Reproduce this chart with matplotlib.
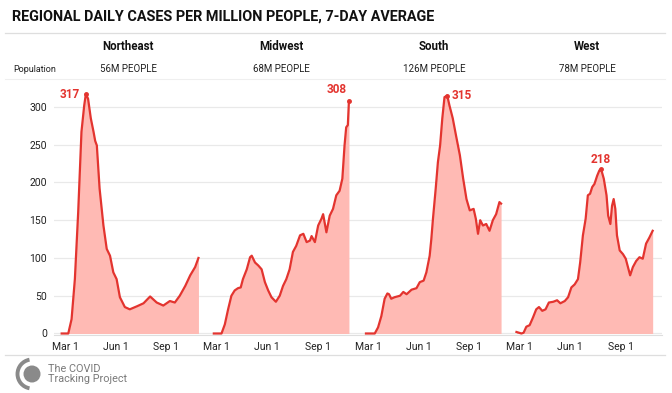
import matplotlib
matplotlib.use("Agg")
import matplotlib.pyplot as plt
from matplotlib.patches import Circle, Arc
from matplotlib.lines import Line2D

plt.rcParams['font.family'] = ['Roboto', 'DejaVu Sans']

# data: days from Mar 1 (2020) and 7-day average cases per million
regions = ["Northeast", "Midwest", "South", "West"]
populations = ["56M PEOPLE", "68M PEOPLE", "126M PEOPLE", "78M PEOPLE"]
peak_labels = [317, 308, 315, 218]

ne_days = [-6, 6, 12, 18, 24, 30, 35, 38, 42, 47, 52, 55, 58, 63, 70, 76, 82, 88, 94, 100,
           109, 118, 131, 143, 155, 167, 179, 191, 200, 209, 219, 228, 237, 243]
ne_vals = [0, 0, 19, 72, 160, 267, 302, 317, 311, 285, 267, 255, 249, 192, 143, 112, 103, 81, 72, 48,
           35, 32, 36, 40, 49, 41, 37, 43, 41, 50, 63, 77, 88, 100]

mw_days = [-5, 9, 15, 21, 27, 33, 39, 44, 48, 55, 61, 64, 70, 76, 82, 88, 94, 100, 108, 115,
           121, 127, 133, 139, 145, 152, 158, 164, 170, 173, 179, 185, 191, 194, 200, 206, 212,
           218, 224, 229, 233, 236, 239, 241]
mw_vals = [0, 0, 12, 32, 50, 57, 60, 61, 72, 85, 101, 103, 94, 90, 85, 68, 57, 48, 42, 50,
           63, 72, 85, 108, 116, 130, 132, 121, 123, 129, 121, 143, 152, 158, 134, 156, 165,
           183, 189, 205, 249, 273, 276, 308]

so_days = [-4, 12, 18, 24, 30, 35, 38, 42, 48, 58, 64, 70, 79, 88, 94, 101, 106, 112, 115, 118,
           123, 127, 131, 135, 139, 144, 148, 154, 160, 167, 173, 179, 185, 192, 196, 200, 204,
           209, 215, 221, 227, 233, 239, 242]
so_vals = [0, 0, 8, 23, 46, 53, 52, 46, 48, 50, 55, 52, 58, 60, 68, 70, 81, 103, 125, 152,
           192, 227, 249, 285, 313, 315, 302, 285, 262, 236, 205, 178, 163, 165, 152, 132, 150,
           143, 145, 136, 150, 158, 174, 172]

we_days = [-6, 3, 7, 12, 18, 24, 30, 35, 41, 47, 53, 61, 68, 74, 82, 88, 94, 100, 106, 110,
           115, 120, 124, 128, 132, 136, 141, 145, 148, 153, 158, 161, 165, 168, 171, 174, 177,
           182, 188, 193, 197, 201, 206, 212, 218, 224, 230, 236, 242]
we_vals = [2, 0, 1, 9, 11, 21, 32, 35, 30, 32, 41, 42, 44, 40, 43, 48, 61, 65, 72, 94,
           130, 152, 183, 185, 194, 198, 209, 216, 218, 205, 183, 156, 145, 169, 178, 165, 130,
           110, 105, 99, 88, 77, 88, 96, 101, 99, 119, 127, 136]

all_days = [ne_days, mw_days, so_days, we_days]
all_vals = [ne_vals, mw_vals, so_vals, we_vals]

tick_days = [0, 92, 184]
tick_names = ["Mar 1", "Jun 1", "Sep 1"]

LINE = "#e3342f"
FILL = "#ffbab4"
GRID = "#e9e9e9"
RULE = "#dedede"
W, H = 672, 393
offset = 276

fig = plt.figure(figsize=(W / 100, H / 100), dpi=100)
ax = fig.add_axes([54 / W, 1 - 335 / H, (662 - 54) / W, (335 - 79) / H])

# label placement: (dx, dy) in points, ha
label_pos = [(-4, 0, "right"), (-9, 8, "center"), (3, 0, "left"), (0, 7, "center")]

xt, xl = [], []
for i in range(4):
    x = [d + i * offset for d in all_days[i]]
    y = all_vals[i]
    ax.fill_between(x, y, 0, color=FILL, lw=0, zorder=2)
    ax.plot(x, y, color=LINE, lw=1.6, zorder=3, solid_joinstyle="round")
    k = y.index(peak_labels[i])
    ax.plot(x[k], y[k], "o", color=LINE, ms=2.5, zorder=4)
    dx, dy, ha = label_pos[i]
    ax.annotate(str(peak_labels[i]), (x[k], y[k]), xytext=(dx, dy), textcoords="offset points",
                ha=ha, va="center", color=LINE, fontsize=8.5, fontweight="bold")
    for d, n in zip(tick_days, tick_names):
        xt.append(d + i * offset)
        xl.append(n)

ax.set_xlim(-20, 1087)
ax.set_ylim(-2, 337)
ax.set_yticks([0, 50, 100, 150, 200, 250, 300])
ax.set_xticks(xt)
ax.set_xticklabels(xl)
ax.tick_params(axis="both", length=0, labelsize=7.5, colors="#222222")
ax.tick_params(axis="y", pad=5)
ax.tick_params(axis="x", pad=5)
ax.grid(axis="y", color=GRID, lw=0.9, zorder=0)
for s in ["top", "right", "left"]:
    ax.spines[s].set_visible(False)
ax.spines["bottom"].set_color(RULE)
ax.spines["bottom"].set_linewidth(0.8)

# header
fig.text(12 / W, 1 - 17 / H, "REGIONAL DAILY CASES PER MILLION PEOPLE, 7-DAY AVERAGE",
         fontsize=10.4, fontweight="bold", va="center", ha="left", color="#111111")
fig.add_artist(Line2D([5 / W, 665 / W], [1 - 33 / H, 1 - 33 / H], color=RULE, lw=0.9))
fig.text(13 / W, 1 - 69 / H, "Population", fontsize=6.5, va="center", ha="left", color="#222222")
for i in range(4):
    cx = (128 + i * 153) / W
    fig.text(cx, 1 - 46 / H, regions[i], fontsize=8.3, fontweight="bold", va="center", ha="center",
             color="#111111")
    fig.text(cx, 1 - 69 / H, populations[i], fontsize=7, va="center", ha="center", color="#222222")
fig.add_artist(Line2D([5 / W, 665 / W], [1 - 79 / H, 1 - 79 / H], color="#efefef", lw=0.8))

# footer
fig.add_artist(Line2D([5 / W, 665 / W], [1 - 355 / H, 1 - 355 / H], color=RULE, lw=0.9))
lax = fig.add_axes([0, 0, 1, 1], zorder=-1)
lax.set_xlim(0, W)
lax.set_ylim(H, 0)
lax.axis("off")
lax.add_patch(Circle((32, 374), 8.5, color="#8a8a8a", lw=0))
lax.add_patch(Arc((32, 374), 29, 29, theta1=100, theta2=260, color="#8a8a8a", lw=2.8))
fig.text(48 / W, 1 - 374 / H, "The COVID\nTracking Project", fontsize=7.8, va="center", ha="left",
         color="#7a7a7a", linespacing=1.1)

fig.savefig("out.png", dpi=100)
